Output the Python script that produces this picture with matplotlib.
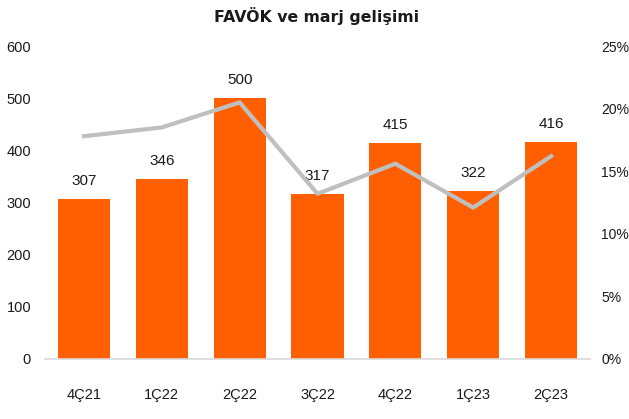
import numpy as np
from matplotlib import pyplot as plt
from matplotlib.ticker import FuncFormatter

quarters = ["4Ç21", "1Ç22", "2Ç22", "3Ç22", "4Ç22", "1Ç23", "2Ç23"]
favok = [307, 346, 500, 317, 415, 322, 416]
margin = [17.8, 18.5, 20.5, 13.2, 15.6, 12.1, 16.2]

plt.rcParams['font.family'] = ['Liberation Sans', 'DejaVu Sans']
text_color = "#1a1a1a"

fig = plt.figure(figsize=(6.29, 4.19), dpi=100)
ax = fig.add_axes([0.0715, 0.1432, 0.8665, 0.7468])
x = np.arange(len(quarters))

bars = ax.bar(x, favok, width=0.67, color="#FF5F00", zorder=2)
for xi, v in zip(x, favok):
    ax.text(xi, v + 21, str(v), ha="center", va="bottom", fontsize=11, color=text_color)

ax.set_xlim(-0.5, len(quarters) - 0.5)
ax.set_ylim(0, 600)
ax.set_yticks(range(0, 601, 100))
ax.set_xticks(x)
ax.set_xticklabels(quarters)
ax.tick_params(axis="both", length=0, labelsize=10.5, colors=text_color)
ax.tick_params(axis="x", pad=21)
ax.tick_params(axis="y", pad=10)
for s in ["top", "right", "left"]:
    ax.spines[s].set_visible(False)
ax.spines["bottom"].set_color("#D9D9D9")
ax.spines["bottom"].set_linewidth(1.2)

ax2 = ax.twinx()
ax2.plot(x, margin, color="#BFBFBF", linewidth=3, zorder=3)
ax2.set_ylim(0, 25)
ax2.set_yticks(range(0, 26, 5))
ax2.yaxis.set_major_formatter(FuncFormatter(lambda v, p: f"{int(v)}%"))
ax2.tick_params(axis="y", length=0, labelsize=10, colors=text_color, pad=8)
for s in ax2.spines.values():
    s.set_visible(False)

fig.text(0.503, 0.962, "FAVÖK ve marj gelişimi", ha="center", va="center",
         fontsize=11.3, fontweight="bold", color=text_color, family=["DejaVu Sans"])

fig.savefig("out.png", dpi=100)
